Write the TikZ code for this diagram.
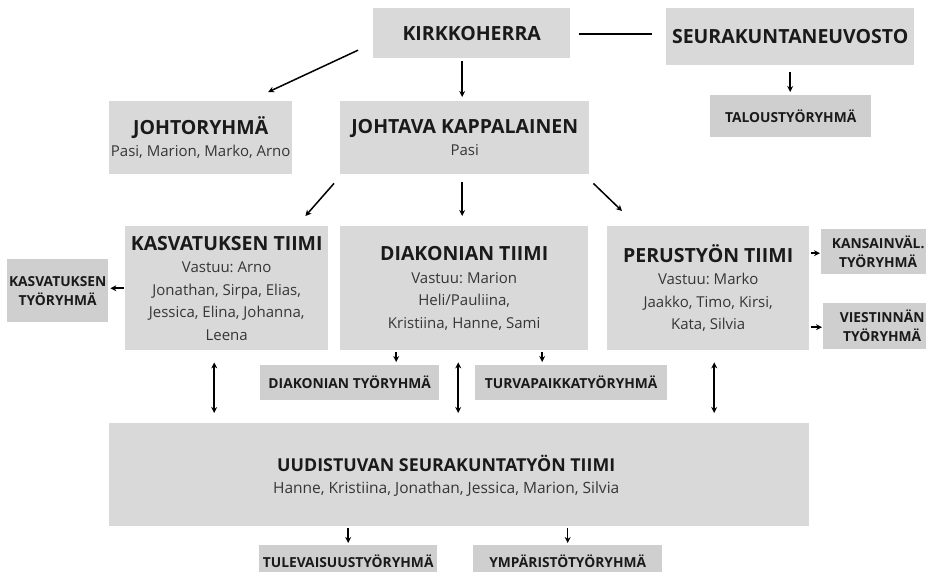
\documentclass[tikz,border=0pt]{standalone}
\usepackage{fontspec}
\setmainfont{Open Sans}
\frenchspacing
\usetikzlibrary{arrows.meta}
\definecolor{boxA}{HTML}{D9D9D9}
\definecolor{boxB}{HTML}{CFCFCF}
\definecolor{ink}{HTML}{1A1A1A}
\definecolor{inkB}{HTML}{363636}
\tikzset{
  mainbox/.style={fill=boxA, inner sep=0pt, anchor=north west, align=center, text=inkB,
    font=\fontsize{15}{22.5}\selectfont},
  smallbox/.style={fill=boxB, inner sep=0pt, anchor=north west, align=center, text=ink,
    font=\fontsize{13.8}{19}\selectfont\bfseries},
  arr/.style={-{Stealth[length=6pt,width=6pt]}, line width=1.5pt, draw=black},
  dbl/.style={{Stealth[length=6pt,width=6pt]}-{Stealth[length=6pt,width=6pt]}, line width=1.5pt, draw=black},
  plain/.style={line width=1.5pt, draw=black},
}
\newcommand\hd[1]{{\color{ink}\fontsize{19.5}{23}\selectfont\bfseries #1}}
\newcommand\hdsmall[1]{{\color{ink}\fontsize{17.8}{23}\selectfont\bfseries #1}}
\begin{document}
\begin{tikzpicture}[x=1pt,y=-1pt]
\useasboundingbox (0,0) rectangle (926,571);
% top row
\node[mainbox, minimum width=197pt, minimum height=50pt] (k) at (373,8) {\hd{KIRKKOHERRA}};
\node[mainbox, minimum width=248pt, minimum height=57pt] (sn) at (666,8) {\hd{SEURAKUNTANEUVOSTO}};
\node[smallbox, minimum width=161pt, minimum height=42pt] (tal) at (710,95) {TALOUSTYÖRYHMÄ};
% second row
\node[mainbox, minimum width=183pt, minimum height=73pt] (jr) at (109,101) {\hd{JOHTORYHMÄ}\\Pasi, Marion, Marko, Arno};
\node[mainbox, minimum width=249pt, minimum height=73pt] (jk) at (340,101) {\hd{JOHTAVA KAPPALAINEN}\\Pasi};
% teams
\node[mainbox, minimum width=203pt, minimum height=124pt] (kt) at (125,226) {\hd{KASVATUKSEN TIIMI}\\Vastuu: Arno\\Jonathan, Sirpa, Elias,\\Jessica, Elina, Johanna,\\Leena};
\node[mainbox, minimum width=248pt, minimum height=124pt] (dt) at (340,226) {\hd{DIAKONIAN TIIMI}\\Vastuu: Marion\\Heli/Pauliina,\\Kristiina, Hanne, Sami};
\node[mainbox, minimum width=202pt, minimum height=124pt] (pt) at (607,226) {\hd{PERUSTYÖN TIIMI}\\Vastuu: Marko\\Jaakko, Timo, Kirsi,\\Kata, Silvia};
% side groups
\node[smallbox, minimum width=101pt, minimum height=63pt] (ktr) at (7,259) {KASVATUKSEN\\TYÖRYHMÄ};
\node[smallbox, minimum width=114pt, minimum height=45pt] (kv) at (821,229) {KANSAINVÄL.\\TYÖRYHMÄ};
\node[smallbox, minimum width=118pt, minimum height=46pt] (vi) at (823,303) {VIESTINNÄN\\TYÖRYHMÄ};
\node[smallbox, minimum width=179pt, minimum height=35pt] (dtr) at (260,365) {DIAKONIAN TYÖRYHMÄ};
\node[smallbox, minimum width=192pt, minimum height=35pt] (tur) at (475,365) {TURVAPAIKKATYÖRYHMÄ};
% bottom
\node[mainbox, minimum width=700pt, minimum height=103pt,
  label={[align=center, xshift=-13pt, yshift=-1pt, text=inkB, font=\fontsize{15.5}{22}\selectfont]center:\hdsmall{UUDISTUVAN SEURAKUNTATYÖN TIIMI}\\Hanne, Kristiina, Jonathan, Jessica, Marion, Silvia}] (uu) at (109,423) {};
\node[smallbox, minimum width=178pt, minimum height=32pt] (tul) at (259,545) {TULEVAISUUSTYÖRYHMÄ};
\node[smallbox, minimum width=189pt, minimum height=32pt] (ymp) at (473,545) {YMPÄRISTÖTYÖRYHMÄ};
% connectors
\draw[plain, shorten <=9pt, shorten >=14pt] ([yshift=-1pt]k.east) -- ([yshift=-1pt]k.east -| sn.west);
\draw[arr, shorten <=7pt, shorten >=3pt] (sn.south) -- (sn.south |- tal.north);
\draw[arr] ([xshift=-15pt,yshift=-17pt]k.west) -- ([xshift=67.5pt,yshift=9pt]jr.north);
\draw[arr, shorten <=3pt, shorten >=4pt] ([xshift=-9.5pt]k.south) -- ([xshift=-9.5pt]k.south |- jk.north);
\draw[arr] ([xshift=-6pt,yshift=-9pt]jk.south west) -- ([xshift=-23pt,yshift=10pt]kt.north east);
\draw[arr, shorten <=8pt, shorten >=10pt] ([xshift=-2.5pt]jk.south) -- ([xshift=-2.5pt]jk.south |- dt.north);
\draw[arr] ([xshift=4pt,yshift=-9pt]jk.south east) -- ([xshift=15pt,yshift=15pt]pt.north west);
\draw[arr, shorten <=1pt, shorten >=2pt] (kt.west) -- (kt.west -| ktr.east);
\draw[arr, shorten <=2pt, shorten >=1pt] ([yshift=35pt]pt.east) -- ([yshift=35pt]pt.east -| kv.west);
\draw[arr, shorten <=2pt, shorten >=1pt] ([yshift=-39pt]pt.east) -- ([yshift=-39pt]pt.east -| vi.west);
\draw[arr, shorten <=2pt, shorten >=3pt] ([xshift=-68pt]dt.south) -- ([xshift=-68pt]dt.south |- dtr.north);
\draw[arr, shorten <=2pt, shorten >=3pt] ([xshift=78pt]dt.south) -- ([xshift=78pt]dt.south |- tur.north);
\draw[dbl, shorten <=12pt, shorten >=10pt] ([xshift=-12.5pt]kt.south) -- ([xshift=-12.5pt]kt.south |- uu.north);
\draw[dbl, shorten <=12pt, shorten >=10pt] ([xshift=-6pt]dt.south) -- ([xshift=-6pt]dt.south |- uu.north);
\draw[dbl, shorten <=12pt, shorten >=10pt] ([xshift=6pt]pt.south) -- ([xshift=6pt]pt.south |- uu.north);
\draw[arr, shorten <=2pt, shorten >=2pt] (tul.north |- uu.south) -- (tul.north);
\draw[arr, shorten <=2pt, shorten >=2pt] (ymp.north |- uu.south) -- (ymp.north);
\end{tikzpicture}
\end{document}
